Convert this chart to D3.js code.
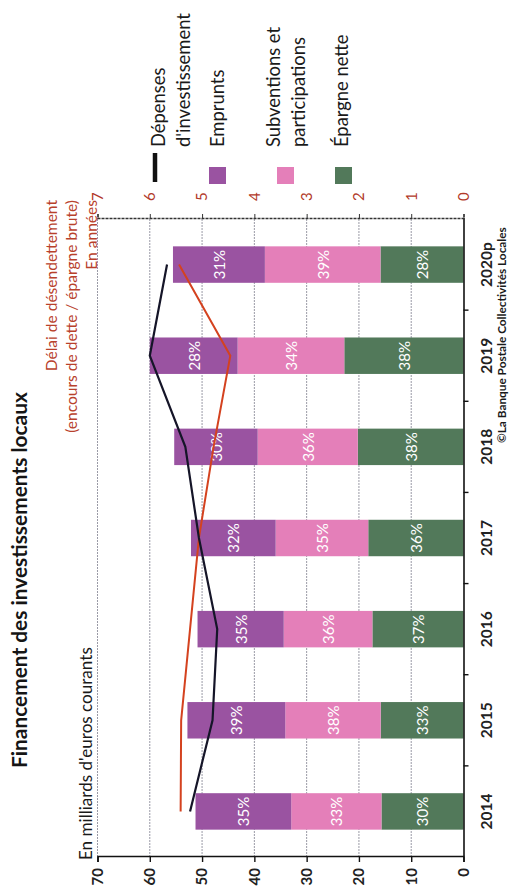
<!DOCTYPE html>
<html>
<head>
<meta charset="utf-8">
<script src="https://cdn.jsdelivr.net/npm/d3@7"></script>
<style>
  html, body { margin: 0; padding: 0; background: #fff; }
  svg { display: block; }
</style>
</head>
<body>
<svg id="chart" width="509" height="892"></svg>
<script>
// Years on the category axis
const years = ["2014", "2015", "2016", "2017", "2018", "2019", "2020p"];
// Dépenses d'investissement, in billions of euros
const depenses = [52.3, 48.0, 47.1, 50.6, 53.2, 60.0, 56.7];
// Financing shares, in % of investment spending (printed inside the bars)
const epargnePct     = [30, 33, 37, 36, 38, 38, 28];
const subventionsPct = [33, 38, 36, 35, 36, 34, 39];
const empruntsPct    = [35, 39, 35, 32, 30, 28, 31];
// Délai de désendettement, in years (right axis)
const delai = [5.41, 5.40, 5.23, 5.06, 4.78, 4.46, 5.44];
// Axis ticks
const valueTicks = [0, 10, 20, 30, 40, 50, 60, 70];
const delaiTicks = [0, 1, 2, 3, 4, 5, 6, 7];

const series = [
  { key: "epargne",     label: "Épargne nette", pct: epargnePct,     color: "#52795a" },
  { key: "subventions", label: "Subventions et participations", pct: subventionsPct, color: "#e47fb9" },
  { key: "emprunts",    label: "Emprunts",      pct: empruntsPct,    color: "#9a53a1" }
];

const FONT = "Lato, 'Open Sans', sans-serif";
const svg = d3.select("#chart");

// The whole figure is laid out in a 892 x 509 frame turned a quarter-turn
const g = svg.append("g").attr("transform", `translate(0,${892}) rotate(-90)`);

const plot = { left: 35, right: 673, top: 97.5, bottom: 463.5 };

const x = d3.scaleBand().domain(years)
  .range([plot.left, plot.right]).paddingInner(0.6).paddingOuter(0.3);
const y = d3.scaleLinear().domain([0, 70]).range([plot.bottom, plot.top]);
const y2 = d3.scaleLinear().domain([0, 7]).range([plot.bottom, plot.top]);

function fit(sel, target) {
  const w = sel.node().getComputedTextLength();
  const fs = parseFloat(sel.attr("font-size"));
  const nfs = fs * target / w;
  sel.attr("font-size", nfs);
  return nfs;
}

// Gridlines
g.append("g").selectAll("line")
  .data(valueTicks.filter(d => d > 0))
  .join("line")
  .attr("x1", plot.left).attr("x2", plot.right)
  .attr("y1", d => y(d)).attr("y2", d => y(d))
  .attr("stroke", "#9a9aa6").attr("stroke-width", 1)
  .attr("stroke-dasharray", "2,1");

// Stacked bars
const stackRows = years.map((yr, i) => {
  const row = { year: yr };
  series.forEach(s => { row[s.key] = depenses[i] * s.pct[i] / 100; });
  return row;
});
const stacked = d3.stack().keys(series.map(s => s.key))(stackRows);

const barG = g.append("g");
stacked.forEach((layer, li) => {
  const s = series[li];
  barG.append("g").selectAll("rect")
    .data(layer)
    .join("rect")
    .attr("x", d => x(d.data.year))
    .attr("width", x.bandwidth())
    .attr("y", d => y(d[1]))
    .attr("height", d => y(d[0]) - y(d[1]))
    .attr("fill", s.color);
  barG.append("g").selectAll("text")
    .data(layer)
    .join("text")
    .attr("x", d => x(d.data.year) + x.bandwidth() / 2)
    .attr("y", d => (y(d[0]) + y(d[1])) / 2)
    .attr("text-anchor", "middle")
    .attr("dominant-baseline", "central")
    .attr("font-family", FONT)
    .attr("font-size", 15)
    .attr("fill", "#ffffff")
    .text((d, i) => s.pct[i] + "%");
});

// Lines
const cx = yr => x(yr) + x.bandwidth() / 2;
g.append("path")
  .datum(years.map((yr, i) => [cx(yr), y2(delai[i])]))
  .attr("fill", "none").attr("stroke", "#d4421f").attr("stroke-width", 2)
  .attr("d", d3.line());
g.append("path")
  .datum(years.map((yr, i) => [cx(yr), y(depenses[i])]))
  .attr("fill", "none").attr("stroke", "#151528").attr("stroke-width", 2.2)
  .attr("d", d3.line());

// Left value axis
const axL = g.append("g").attr("transform", `translate(${plot.left},0)`)
  .call(d3.axisLeft(y).tickValues(valueTicks).tickSize(5).tickPadding(6));
axL.select(".domain").attr("stroke", "#111").attr("stroke-width", 1.6);
axL.selectAll(".tick line").attr("stroke", "#111").attr("stroke-width", 1.4);
axL.selectAll("text").attr("font-family", FONT).attr("font-size", 15)
  .attr("font-weight", "bold").attr("fill", "#222");

// Category axis with ticks between the years
const axB = g.append("g").attr("transform", `translate(0,${plot.bottom})`)
  .call(d3.axisBottom(x).tickSize(0).tickPadding(17));
axB.select(".domain").attr("stroke", "#111").attr("stroke-width", 1.6);
axB.selectAll("text").attr("font-family", FONT).attr("font-size", 15.5)
  .attr("font-weight", "bold").attr("fill", "#222");
const step = x.step();
g.append("g").selectAll("line")
  .data(years.slice(1))
  .join("line")
  .attr("x1", d => x(d) - step * x.paddingInner() / 2)
  .attr("x2", d => x(d) - step * x.paddingInner() / 2)
  .attr("y1", plot.bottom).attr("y2", plot.bottom + 5)
  .attr("stroke", "#111").attr("stroke-width", 1.4);

// Right axis: délai de désendettement
const axR = g.append("g").attr("transform", `translate(${plot.right},0)`)
  .call(d3.axisRight(y2).tickValues(delaiTicks).tickFormat(d3.format("d"))
    .tickSize(5).tickPadding(13));
axR.select(".domain").attr("stroke", "#333").attr("stroke-width", 1.4)
  .attr("stroke-dasharray", "3,1");
axR.selectAll(".tick line").attr("stroke", "#333");
axR.selectAll("text").attr("font-family", FONT).attr("font-size", 15)
  .attr("fill", "#b23a2a");

// Title and axis captions
const title = g.append("text")
  .attr("x", 124).attr("y", 27)
  .attr("font-family", FONT).attr("font-weight", "bold").attr("font-size", 20)
  .attr("fill", "#151515")
  .text("Financement des investissements locaux");
fit(title, 376);

const unit = g.append("text")
  .attr("x", 32).attr("y", 92)
  .attr("font-family", FONT).attr("font-size", 14).attr("fill", "#1a1a1a")
  .text("En milliards d'euros courants");
fit(unit, 213);

const redLines = ["Délai de désendettement", "(encours de dette / épargne brute)", "En années"];
const redY = [57, 77, 97];
const probe = g.append("text").attr("font-family", FONT).attr("font-size", 14)
  .text(redLines[1]);
const redSize = fit(probe, 233);
probe.remove();
g.append("g").selectAll("text")
  .data(redLines)
  .join("text")
  .attr("x", 692).attr("y", (d, i) => redY[i])
  .attr("text-anchor", "end")
  .attr("font-family", FONT).attr("font-size", redSize)
  .attr("fill", "#b8412c")
  .text(d => d);

// Legend
const legG = g.append("g");
legG.append("line")
  .attr("x1", 710).attr("x2", 739).attr("y1", 155).attr("y2", 155)
  .attr("stroke", "#111").attr("stroke-width", 4.5);
const legendSwatches = [
  { color: series[2].color, top: 209 },
  { color: series[1].color, top: 277 },
  { color: series[0].color, top: 335 }
];
legG.selectAll("rect")
  .data(legendSwatches)
  .join("rect")
  .attr("x", 708).attr("y", d => d.top)
  .attr("width", 17).attr("height", 17)
  .attr("fill", d => d.color);

const legendText = [
  { t: "Dépenses", yb: 165 },
  { t: "d'investissement", yb: 190 },
  { t: "Emprunts", yb: 224 },
  { t: "Subventions et", yb: 280 },
  { t: "participations", yb: 305 },
  { t: "Épargne nette", yb: 348 }
];
const legProbe = g.append("text").attr("font-family", FONT).attr("font-size", 16)
  .text("d'investissement");
const legSize = fit(legProbe, 134);
legProbe.remove();
legG.selectAll("text")
  .data(legendText)
  .join("text")
  .attr("x", 745).attr("y", d => d.yb)
  .attr("font-family", FONT).attr("font-size", legSize).attr("fill", "#1a1a1a")
  .text(d => d.t);

// Source
const src = g.append("text")
  .attr("x", 449).attr("y", 506)
  .attr("font-family", FONT).attr("font-weight", "bold").attr("font-size", 11)
  .attr("fill", "#1a1a1a")
  .text("©La Banque Postale Collectivités Locales");
fit(src, 216);
</script>
</body>
</html>
